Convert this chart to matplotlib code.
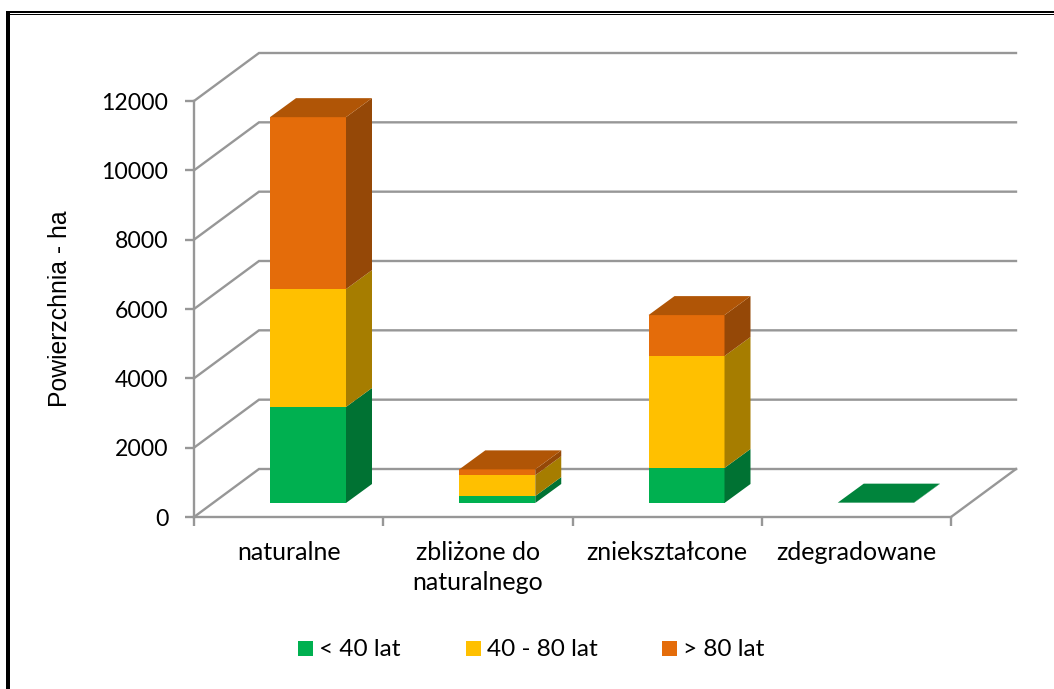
import matplotlib
matplotlib.use("Agg")
import matplotlib.pyplot as plt
from matplotlib.patches import Polygon, Rectangle

categories = ["naturalne", "zbliżone do\nnaturalnego", "zniekształcone", "zdegradowane"]
young = [2770, 200, 1010, 10]
middle = [3400, 600, 3230, 0]
old = [4960, 170, 1180, 0]
series_names = ["< 40 lat", "40 - 80 lat", "> 80 lat"]
yticks = [0, 2000, 4000, 6000, 8000, 10000, 12000]

W, H = 1054, 689
GREY = "#979797"
# front, side, top colour of every series
COLORS = [("#00b050", "#007233", "#00843c"),
          ("#ffc000", "#a67d00", "#bf9000"),
          ("#e46c0a", "#954807", "#b05506")]

plt.rcParams["font.family"] = ["Lato", "DejaVu Sans"]

fig = plt.figure(figsize=(W / 100, H / 100), dpi=100)
ax = fig.add_axes([194 / W, 1 - 517 / H, (951 - 194) / W, (517 - 101) / H])
ax.set_xlim(0, 4)
ax.set_ylim(0, 12000)
ax.patch.set_visible(False)

# depth of the floor and of the bars, in data units
px_x = 4 / (951 - 194)
px_y = 12000 / (517 - 101)
floor_dx, floor_dy = 65 * px_x, 48 * px_y
bar_dx, bar_dy = 26 * px_x, 19 * px_y
start_dx, start_dy = 19 * px_x, 14 * px_y
bar_w = 76 * px_x


def grid():
    for v in yticks:
        ax.plot([0, floor_dx, 4 + floor_dx], [v, v + floor_dy, v + floor_dy],
                color=GREY, lw=1.7, clip_on=False, zorder=1, solid_joinstyle="miter")
    ax.plot([4, 4 + floor_dx], [0, floor_dy], color=GREY, lw=1.7, clip_on=False, zorder=1)


def bars():
    for i in range(len(categories)):
        x0 = i + start_dx + 57 * px_x
        x1 = x0 + bar_w
        base = start_dy
        top_color = None
        for vals, cols in zip([young, middle, old], COLORS):
            v = vals[i]
            if v <= 0:
                continue
            y0, y1 = base, base + v
            ax.add_patch(Polygon([(x0, y0), (x1, y0), (x1, y1), (x0, y1)], fc=cols[0],
                                 ec="none", clip_on=False, zorder=3))
            ax.add_patch(Polygon([(x1, y0), (x1 + bar_dx, y0 + bar_dy),
                                  (x1 + bar_dx, y1 + bar_dy), (x1, y1)], fc=cols[1],
                                 ec="none", clip_on=False, zorder=3))
            base = y1
            top_color = cols[2]
        ax.add_patch(Polygon([(x0, base), (x1, base), (x1 + bar_dx, base + bar_dy),
                              (x0 + bar_dx, base + bar_dy)], fc=top_color,
                             ec="none", clip_on=False, zorder=3))


grid()
bars()

for s in ["top", "right"]:
    ax.spines[s].set_visible(False)
for s in ["left", "bottom"]:
    ax.spines[s].set_color(GREY)
    ax.spines[s].set_linewidth(1.7)
    ax.spines[s].set_zorder(2)

ax.set_yticks(yticks)
ax.set_xticks(range(5))
ax.set_xticklabels([])
ax.tick_params(axis="both", color=GREY, width=1.7, length=6.5, labelsize=16.6, pad=12)

for i, c in enumerate(categories):
    fig.text((194 + (i + 0.5) * 189.25) / W, 1 - 541 / H, c, ha="center", va="top",
             fontsize=18, linespacing=1.36)

fig.text(60 / W, 1 - 309 / H, "Powierzchnia - ha", rotation=90, ha="center", va="center",
         fontsize=17.8, family="Liberation Sans")

# legend
for x, name, cols in zip([298, 466, 662], series_names, COLORS):
    fig.add_artist(Rectangle((x / W, 1 - 656 / H), 15 / W, 15 / H, fc=cols[0], ec="none",
                             transform=fig.transFigure))
    fig.text((x + 21) / W, 1 - 650 / H, name, ha="left", va="center", fontsize=17.6)

# frame around the picture
fig.add_artist(Rectangle((6 / W, 0), 4 / W, 1 - 11 / H, fc="black", ec="none", transform=fig.transFigure))
fig.add_artist(Rectangle((6 / W, 1 - 13 / H), 1 - 6 / W, 2 / H, fc="black", ec="none", transform=fig.transFigure))
fig.add_artist(Rectangle((10 / W, 1 - 15 / H), 1 - 10 / W, 1 / H, fc="black", ec="none", transform=fig.transFigure))

fig.savefig("out.png", dpi=100)
